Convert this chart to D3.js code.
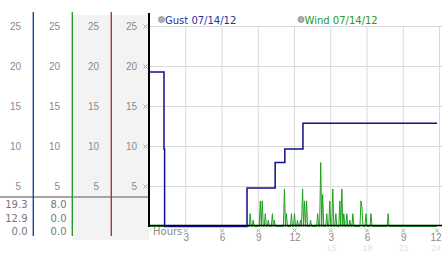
<!doctype html>
<html>
<head>
<meta charset="utf-8">
<style>
  body { margin: 0; background: #fff; }
  svg { display: block; font-family: "DejaVu Sans", Verdana, sans-serif; }
  .ylab text, .xlab text { fill: #8a8a8a; font-size: 10px; }
  .xlab24 text { fill: #e4e4e4; font-size: 9px; }
  .stat { fill: #777; font-size: 10px; text-anchor: end; }
</style>
<script src="https://d3js.org/d3.v7.min.js"></script>
</head>
<body>
<svg width="442" height="253"></svg>
<script>
// ---- data ----
var hourTicks = [3, 6, 9, 12, 15, 18, 21, 24];
var hourLabels = ["3", "6", "9", "12", "3", "6", "9", "12"];
var hourLabels24 = ["", "", "", "", "15", "18", "21", "24"];
var yTicks = [5, 10, 15, 20, 25];

var seriesNames = ["Gust 07/14/12", "Wind 07/14/12"];
var gustStats = ["19.3", "12.9", "0.0"];
var windStats = ["8.0", "0.0", "0.0"];

// [hour, mph]
var gust = [[0, 19.3], [1.2, 9.7], [1.25, 0], [8.07, 4.8], [10.4, 8.0], [11.2, 9.7], [12.7, 12.9], [23.8, 12.9]];
var wind = [
  [0, 0], [8.25, 0], [8.33, 1.6], [8.42, 0], [8.5, 0], [8.58, 0.8], [8.67, 0],
  [9.08, 0], [9.17, 3.2], [9.25, 0], [9.33, 3.2], [9.42, 0], [9.5, 0], [9.58, 1.6], [9.67, 0], [9.75, 0], [9.83, 0.8], [9.92, 0],
  [10.08, 0], [10.17, 1.6], [10.25, 0], [10.33, 0.8], [10.42, 0],
  [11.08, 0], [11.17, 4.7], [11.25, 0], [11.33, 1.6], [11.42, 0],
  [11.67, 0], [11.75, 1.6], [11.83, 0], [11.92, 0], [12, 1.6], [12.08, 0], [12.17, 0], [12.25, 0.8], [12.33, 0],
  [12.42, 0], [12.5, 0.8], [12.58, 0], [12.67, 4.7], [12.75, 0], [12.83, 3.2], [12.92, 0], [13, 3.2], [13.08, 0],
  [13.25, 0], [13.33, 0.8], [13.42, 0],
  [13.83, 0], [13.92, 1.6], [14, 0], [14.08, 0], [14.17, 8.0], [14.25, 0], [14.33, 4.0], [14.42, 0],
  [14.58, 0], [14.67, 1.6], [14.75, 0], [14.83, 0], [14.92, 3.2], [15, 0], [15.08, 0], [15.17, 4.7], [15.25, 0],
  [15.33, 0], [15.42, 1.6], [15.5, 0],
  [15.67, 0], [15.75, 3.2], [15.83, 0], [15.92, 4.7], [16, 0], [16.08, 1.6], [16.17, 0], [16.25, 0], [16.33, 1.6], [16.42, 0],
  [16.5, 0], [16.58, 0.8], [16.67, 0], [16.75, 0], [16.83, 1.6], [16.92, 0],
  [17.42, 0], [17.5, 3.2], [17.58, 2.4], [17.67, 0],
  [17.83, 0], [17.92, 1.6], [18, 0],
  [18.25, 0], [18.33, 1.6], [18.42, 0],
  [19.67, 0], [19.75, 1.6], [19.83, 0],
  [23.8, 0]
];

var svg = d3.select("svg");

var x = d3.scaleLinear().domain([0, 24]).range([149.5, 439.5]);
var y = d3.scaleLinear().domain([0, 25]).range([226.5, 26.5]);

// ---- left panel ----
var cols = [
  { right: 33, color: "#2242a0" },
  { right: 72, color: "#2e9a2e" },
  { right: 111, color: "#ad3535" },
  { right: 149, color: null }
];

svg.append("rect").attr("x", 72).attr("y", 15).attr("width", 77).attr("height", 225).attr("fill", "#f3f3f3");

cols.forEach(function(c) {
  var g = svg.append("g").attr("class", "ylab")
    .attr("transform", "translate(" + (c.right - 12) + ",0)")
    .call(d3.axisLeft(y).tickValues(yTicks).tickSize(0).tickPadding(0));
  g.select(".domain").remove();
  g.selectAll("text").attr("font-family", null).attr("font-size", null);
});

svg.append("line").attr("x1", 0).attr("x2", 148).attr("y1", 197).attr("y2", 197)
  .attr("stroke", "#a5a5a5").attr("stroke-width", 2);

cols.slice(0, 3).forEach(function(c) {
  svg.append("line").attr("x1", c.right + 0.3).attr("x2", c.right + 0.3)
    .attr("y1", 12).attr("y2", 236).attr("stroke", c.color).attr("stroke-width", 1.4);
});

[gustStats, windStats].forEach(function(st, i) {
  svg.selectAll(null).data(st).enter().append("text")
    .attr("class", "stat")
    .attr("x", cols[i].right - 5.5)
    .attr("y", function(d, j) { return 208 + j * 13.5; })
    .text(function(d) { return d; });
});

// ---- chart grid ----
svg.append("g").selectAll("line").data(hourTicks).enter().append("line")
  .attr("x1", function(d) { return x(d); }).attr("x2", function(d) { return x(d); })
  .attr("y1", y(25)).attr("y2", y(0))
  .attr("stroke", "#d9d9d9");
svg.append("g").selectAll("line").data(yTicks).enter().append("line")
  .attr("x1", 150).attr("x2", 442)
  .attr("y1", function(d) { return y(d); }).attr("y2", function(d) { return y(d); })
  .attr("stroke", "#d9d9d9");

// little tick markers
function mark(cx, cy) {
  svg.append("path")
    .attr("d", "M" + (cx - 2) + "," + (cy - 2) + "L" + (cx + 2) + "," + (cy + 2) +
               "M" + (cx + 2) + "," + (cy - 2) + "L" + (cx - 2) + "," + (cy + 2))
    .attr("stroke", "#a8a8a8").attr("stroke-width", 1).attr("fill", "none");
}
yTicks.forEach(function(d) { mark(145.5, y(d)); });
hourTicks.forEach(function(d) { mark(Math.min(x(d), 437), 230.5); });

// hour labels
var xa = svg.append("g").attr("class", "xlab")
  .attr("transform", "translate(0,233.5)")
  .call(d3.axisBottom(x).tickValues(hourTicks).tickSize(0).tickPadding(0)
    .tickFormat(function(d, i) { return hourLabels[i]; }));
xa.select(".domain").remove();
xa.selectAll("text").attr("font-family", null).attr("font-size", null);
xa.selectAll(".tick").filter(function(d) { return d === 24; })
  .attr("transform", "translate(" + 436 + ",0)");

var xb = svg.append("g").attr("class", "xlab24")
  .attr("transform", "translate(0,244.5)")
  .call(d3.axisBottom(x).tickValues(hourTicks).tickSize(0).tickPadding(0)
    .tickFormat(function(d, i) { return hourLabels24[i]; }));
xb.select(".domain").remove();
xb.selectAll("text").attr("font-family", null).attr("font-size", null);
xb.selectAll(".tick").filter(function(d) { return d === 24; })
  .attr("transform", "translate(" + 436 + ",0)");

svg.append("text").attr("x", 153).attr("y", 234.5).attr("fill", "#8a8a8a")
  .attr("font-size", 10).text("Hours");

// ---- series ----
var line = d3.line().x(function(d) { return x(d[0]); }).y(function(d) { return y(d[1]); });

svg.append("path").datum(wind).attr("d", line)
  .attr("fill", "none").attr("stroke", "#1fa01f").attr("stroke-width", 1);

// axes lines
svg.append("line").attr("x1", 149).attr("x2", 149).attr("y1", 13).attr("y2", 227)
  .attr("stroke", "#000").attr("stroke-width", 2);
svg.append("line").attr("x1", 148).attr("x2", 442).attr("y1", 225.5).attr("y2", 225.5)
  .attr("stroke", "#000").attr("stroke-width", 1.5);

svg.append("path").datum(gust).attr("d", line.curve(d3.curveStepAfter))
  .attr("fill", "none").attr("stroke", "#10108a").attr("stroke-width", 1.5);

// ---- legend ----
var legendX = [161.5, 301];
var legendColor = ["#2233a6", "#249a24"];
seriesNames.forEach(function(n, i) {
  svg.append("circle").attr("cx", legendX[i]).attr("cy", 19.5).attr("r", 3)
    .attr("fill", "#b0b0b0").attr("stroke", "#8c8c8c").attr("stroke-width", 0.8);
  svg.append("text").attr("x", legendX[i] + 3.5).attr("y", 23.5)
    .attr("fill", legendColor[i]).attr("font-size", 10).text(n);
});
</script>
</body>
</html>
